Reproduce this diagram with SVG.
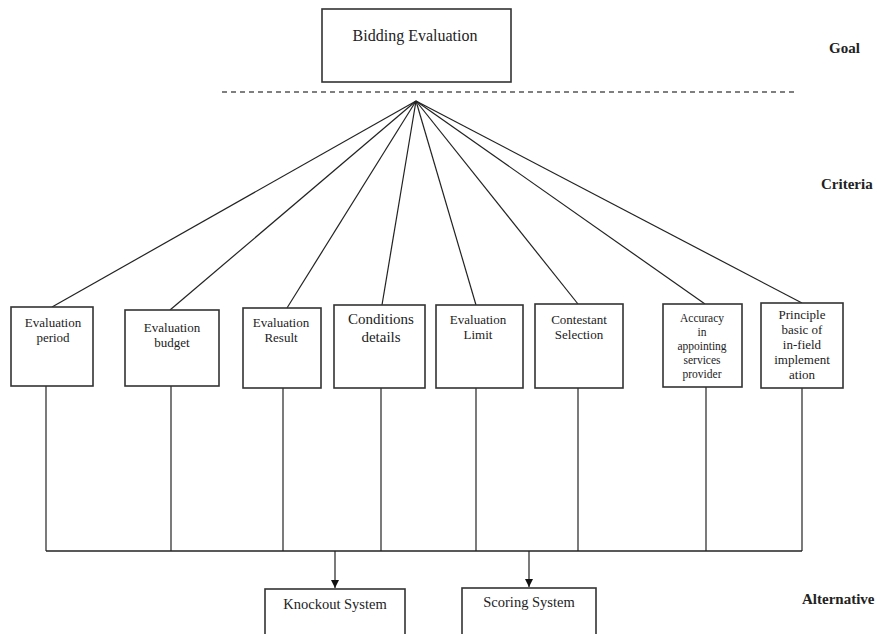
<svg xmlns="http://www.w3.org/2000/svg" width="884" height="634" viewBox="0 0 884 634">
<defs>
<marker id="arr" viewBox="0 0 10 10" refX="10" refY="5" markerWidth="8" markerHeight="8" markerUnits="userSpaceOnUse" orient="auto">
<path d="M0,0 L10,5 L0,10 z" fill="#111"/>
</marker>
<style>
rect{fill:#fff;stroke:#333;stroke-width:1.6}
.ln{stroke:#222;stroke-width:1.2;fill:none}
text{font-family:"Liberation Serif","Times New Roman",serif;fill:#222;text-anchor:middle}
.t{font-size:13px}
.s{font-size:11.5px}
.lab{font-size:15px;font-weight:bold;text-anchor:start}
</style>
</defs>
<rect width="884" height="634" fill="#fff" style="stroke:none"/>
<g id="connectors">
<line class="ln" x1="222" y1="92" x2="796" y2="92" stroke-dasharray="5,4" style="stroke:#555;stroke-width:1.6"/>
<line class="ln" x1="416" y1="101" x2="52" y2="307"/>
<line class="ln" x1="416" y1="101" x2="170" y2="310"/>
<line class="ln" x1="416" y1="101" x2="287" y2="308"/>
<line class="ln" x1="416" y1="101" x2="382" y2="305"/>
<line class="ln" x1="416" y1="101" x2="476" y2="305"/>
<line class="ln" x1="416" y1="101" x2="578" y2="304"/>
<line class="ln" x1="416" y1="101" x2="705" y2="304"/>
<line class="ln" x1="416" y1="101" x2="802" y2="303"/>
<line class="ln" x1="46" y1="386" x2="46" y2="551"/>
<line class="ln" x1="171" y1="386" x2="171" y2="551"/>
<line class="ln" x1="283" y1="388" x2="283" y2="551"/>
<line class="ln" x1="381" y1="388" x2="381" y2="551"/>
<line class="ln" x1="476" y1="388" x2="476" y2="551"/>
<line class="ln" x1="578" y1="388" x2="578" y2="551"/>
<line class="ln" x1="706" y1="387" x2="706" y2="551"/>
<line class="ln" x1="802" y1="388" x2="802" y2="551"/>
<line class="ln" x1="46" y1="551" x2="802" y2="551" style="stroke-width:1.6"/>
<line class="ln" x1="335" y1="551" x2="335" y2="588" marker-end="url(#arr)"/>
<line class="ln" x1="529" y1="551" x2="529" y2="587" marker-end="url(#arr)"/>
</g>
<g id="goal">
<rect x="322" y="9" width="189" height="73"/>
<text x="415" y="41" style="font-size:16px">Bidding Evaluation</text>
</g>
<g id="c1">
<rect x="11" y="307" width="82" height="79"/>
<text class="t" x="53" y="327">Evaluation</text>
<text class="t" x="53" y="342">period</text>
</g>
<g id="c2">
<rect x="125" y="310" width="94" height="76"/>
<text class="t" x="172" y="332">Evaluation</text>
<text class="t" x="172" y="347">budget</text>
</g>
<g id="c3">
<rect x="243" y="308" width="78" height="80"/>
<text class="t" x="281" y="327">Evaluation</text>
<text class="t" x="281" y="342">Result</text>
</g>
<g id="c4">
<rect x="334" y="305" width="91" height="83"/>
<text x="381" y="324" style="font-size:15px">Conditions</text>
<text x="381" y="342" style="font-size:15px">details</text>
</g>
<g id="c5">
<rect x="436" y="305" width="87" height="83"/>
<text class="t" x="478" y="324">Evaluation</text>
<text class="t" x="478" y="339">Limit</text>
</g>
<g id="c6">
<rect x="535" y="304" width="88" height="84"/>
<text class="t" x="579" y="324">Contestant</text>
<text class="t" x="579" y="339">Selection</text>
</g>
<g id="c7">
<rect x="663" y="304" width="79" height="83"/>
<text class="s" x="702" y="322">Accuracy</text>
<text class="s" x="702" y="336">in</text>
<text class="s" x="702" y="350">appointing</text>
<text class="s" x="702" y="364">services</text>
<text class="s" x="702" y="378">provider</text>
</g>
<g id="c8">
<rect x="761" y="303" width="82" height="85"/>
<text class="t" x="802" y="319">Principle</text>
<text class="t" x="802" y="334">basic of</text>
<text class="t" x="802" y="349">in-field</text>
<text class="t" x="802" y="364">implement</text>
<text class="t" x="802" y="379">ation</text>
</g>
<g id="a1">
<rect x="265" y="589" width="140" height="50"/>
<text x="335" y="609" style="font-size:14.5px">Knockout System</text>
</g>
<g id="a2">
<rect x="462" y="588" width="134" height="51"/>
<text x="529" y="607" style="font-size:14.5px">Scoring System</text>
</g>
<g id="labels">
<text class="lab" x="829" y="53">Goal</text>
<text class="lab" x="821" y="189">Criteria</text>
<text class="lab" x="802" y="604">Alternative</text>
</g>
</svg>
